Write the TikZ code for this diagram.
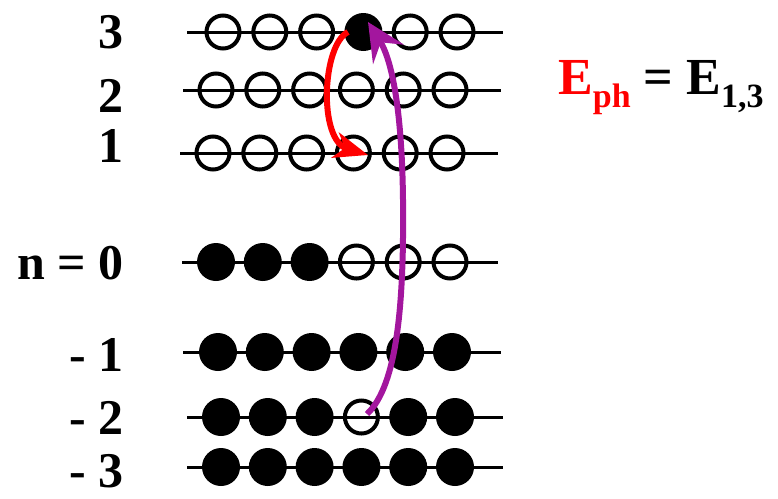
\documentclass[tikz,border=0pt]{standalone}
\usepackage{fontspec}
\setmainfont{Liberation Serif}
\usetikzlibrary{arrows.meta}
\definecolor{arrowpurple}{RGB}{163,22,158}
\definecolor{arrowred}{RGB}{255,0,0}
\begin{document}
\begin{tikzpicture}[x=1pt,y=-1pt,
  level/.style={line width=3pt},
  emptydot/.style={circle,draw,line width=4pt,minimum size=33pt,inner sep=0pt},
  fulldot/.style={circle,fill,minimum size=38pt,inner sep=0pt},
  lab/.style={anchor=base east,inner sep=0pt,font=\fontsize{50}{50}\selectfont\bfseries},
  formula/.style={anchor=base west,inner sep=0pt,font=\fontsize{52}{52}\selectfont\bfseries},
  redarrow/.style={draw=arrowred,line width=6pt,-{Stealth[length=34pt,width=26pt,inset=10pt]}},
  purplearrow/.style={draw=arrowpurple,line width=6pt,-{Stealth[length=38pt,width=36pt,inset=14pt]}}]
\useasboundingbox (0,0) rectangle (778,498);

\foreach \r/\y/\la/\lb/\cx/\types in {
  p3/32/187/503/223/{emptydot,emptydot,emptydot,fulldot,emptydot,emptydot},
  p2/90/183/501/216/{emptydot,emptydot,emptydot,emptydot,emptydot,emptydot},
  p1/153/180/498/213/{emptydot,emptydot,emptydot,emptydot,emptydot,emptydot},
  z0/262/182/498/216/{fulldot,fulldot,fulldot,emptydot,emptydot,emptydot},
  m1/352/183/501/218/{fulldot,fulldot,fulldot,fulldot,fulldot,fulldot},
  m2/417/187/503/221/{fulldot,fulldot,fulldot,emptydot,fulldot,fulldot},
  m3/467/187/503/221/{fulldot,fulldot,fulldot,fulldot,fulldot,fulldot}}{
  \draw[level] (\la,\y) coordinate (\r L) -- (\lb,\y) coordinate (\r R);
  \foreach \t [count=\i] in \types {
    \node[\t] (\r c\i) at ({\cx+(\i-1)*46.8},\y) {};
  }
}

\node[lab] (l3) at (124,48) {3};
\node[lab] (l2) at (124,112) {2};
\node[lab] (l1) at (124,162) {1};
\node[lab] (l0) at (124,279) {n = 0};
\node[lab] (lm1) at (124,371) {- 1};
\node[lab] (lm2) at (124,434) {- 2};
\node[lab] (lm3) at (124,487) {- 3};

\node[formula] (eq) at (558,94) {\textcolor{arrowred}{E\raisebox{-13pt}{\fontsize{34}{34}\selectfont ph}} = E\raisebox{-13pt}{\fontsize{34}{34}\selectfont 1,3}};

\coordinate (redstart) at (348,32);
\coordinate (redtip) at (368,155);
\coordinate (purplestart) at (367,414);
\coordinate (purplemid) at (403,200);
\coordinate (purpletip) at (368,22);

\draw[redarrow] (redstart) .. controls (322,45) and (318,140) .. (redtip);
\draw[purplearrow] (purplestart) .. controls (398,385) and (404,300) .. (purplemid)
  .. controls (402,110) and (392,60) .. (purpletip);
\end{tikzpicture}
\end{document}
